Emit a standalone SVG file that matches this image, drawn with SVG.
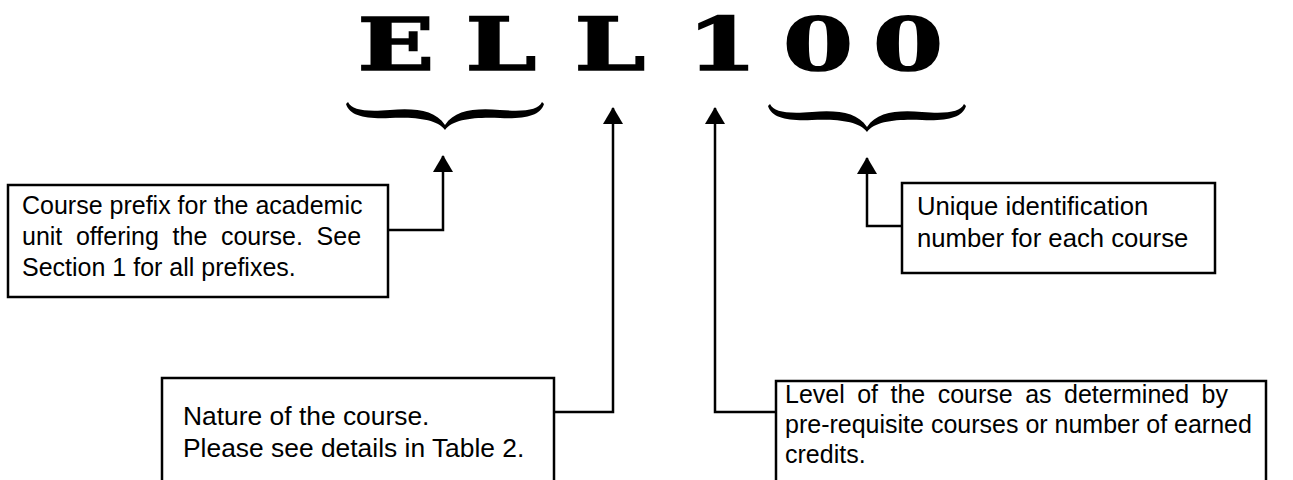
<svg xmlns="http://www.w3.org/2000/svg" width="1293" height="480" viewBox="0 0 1293 480">
<style>
.code{font-family:"DejaVu Serif",serif;font-weight:bold;font-size:72px;fill:#000;stroke:#000;stroke-width:1.6;text-anchor:middle}
.t{font-family:"Liberation Sans",Arial,sans-serif;font-size:25px;fill:#000}
.box{fill:#fff;stroke:#000;stroke-width:2.5}
.ln{fill:none;stroke:#000;stroke-width:2.5}
.brace{fill:#000}
</style>
<defs>
<marker id="ah" markerWidth="20" markerHeight="18" refX="10" refY="1" orient="0" markerUnits="userSpaceOnUse">
<path d="M0,17 L10,0 L20,17 Z" fill="#000"/>
</marker>
<path id="br" d="M-97,0 C-93,8 -80,10 -55,8 C-30,6 -10,8 0,23 C10,8 30,6 55,8 C80,10 93,8 97,0 L99,2 C95,14 80,17 55,16 C30,15 8,17 0,28 C-8,17 -30,15 -55,16 C-80,17 -95,14 -99,2 Z"/>
</defs>
<g id="title">
<text class="code" transform="translate(396,70) scale(1.4,1)">E</text>
<text class="code" transform="translate(501,70) scale(1.4,1)">L</text>
<text class="code" transform="translate(610,70) scale(1.4,1)">L</text>
<text class="code" transform="translate(722,70) scale(1.4,1)">1</text>
<text class="code" transform="translate(818,70) scale(1.4,1)">0</text>
<text class="code" transform="translate(908,70) scale(1.4,1)">0</text>
</g>
<g id="braces">
<use href="#br" class="brace" transform="translate(445,102)"/>
<use href="#br" class="brace" transform="translate(867,104)"/>
</g>
<g id="connectors">
<polyline class="ln" points="388,230 443,230 443,156" marker-end="url(#ah)"/>
<polyline class="ln" points="902,226 867,226 867,158" marker-end="url(#ah)"/>
<polyline class="ln" points="554,412 613,412 613,108" marker-end="url(#ah)"/>
<polyline class="ln" points="776,412 715,412 715,108" marker-end="url(#ah)"/>
</g>
<g id="node-prefix">
<rect class="box" x="8" y="185" width="380" height="112"/>
<text class="t" x="22" y="214">Course prefix for the academic</text>
<text class="t" x="22" y="245" style="word-spacing:6.7px">unit offering the course. See</text>
<text class="t" x="22" y="276">Section 1 for all prefixes.</text>
</g>
<g id="node-number">
<rect class="box" x="902" y="183" width="313" height="90"/>
<text class="t" x="917" y="215" style="font-size:25.7px">Unique identification</text>
<text class="t" x="917" y="247" style="font-size:25.7px">number for each course</text>
</g>
<g id="node-nature">
<rect class="box" x="162" y="378" width="392" height="120"/>
<text class="t" x="183" y="425" style="font-size:26.4px">Nature of the course.</text>
<text class="t" x="183" y="457" style="font-size:26.4px">Please see details in Table 2.</text>
</g>
<g id="node-level">
<rect class="box" x="776" y="381" width="490" height="120"/>
<text class="t" x="785" y="403" style="word-spacing:5.5px">Level of the course as determined by</text>
<text class="t" x="785" y="433">pre-requisite courses or number of earned</text>
<text class="t" x="785" y="463">credits.</text>
</g>
</svg>
